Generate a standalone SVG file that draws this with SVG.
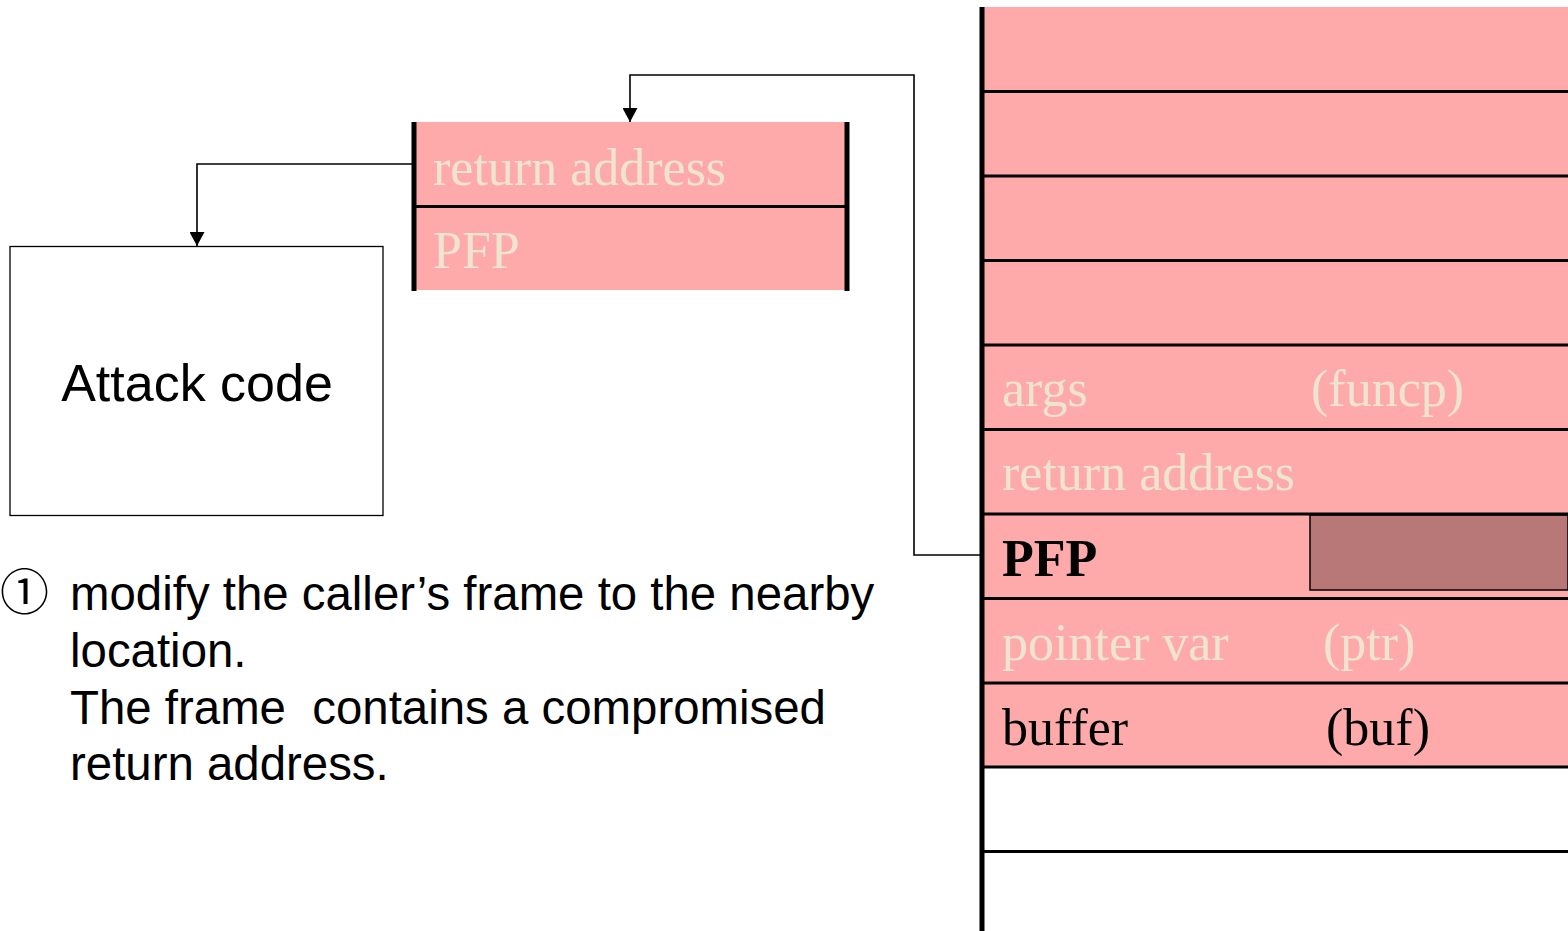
<svg xmlns="http://www.w3.org/2000/svg" width="1568" height="931" viewBox="0 0 1568 931">
<style>
.serif{font-family:"Liberation Serif","Times New Roman",serif;font-size:52px}
.cream{fill:#EEE4D0}
.sans{font-family:"Liberation Sans",Arial,"Noto Sans CJK JP",sans-serif;fill:#000}
.sep{stroke:#000;stroke-width:3}
.conn{fill:none;stroke:#000;stroke-width:1.6}
</style>
<defs>
<marker id="arrow" viewBox="0 0 14 15" refX="14" refY="7.5" markerWidth="14" markerHeight="15" markerUnits="userSpaceOnUse" orient="auto">
<path d="M0,0 L14,7.5 L0,15 z" fill="#000"/>
</marker>
</defs>
<rect width="1568" height="931" fill="#fff"/>

<g id="stack">
<rect x="982" y="7" width="586" height="760" fill="#FFAAAA"/>
<rect x="1310" y="515" width="258" height="75" fill="#B87878" stroke="#000" stroke-width="1.5"/>
<line class="sep" x1="982" y1="91.5" x2="1568" y2="91.5"/>
<line class="sep" x1="982" y1="176" x2="1568" y2="176"/>
<line class="sep" x1="982" y1="260.5" x2="1568" y2="260.5"/>
<line class="sep" x1="982" y1="345" x2="1568" y2="345"/>
<line class="sep" x1="982" y1="429.5" x2="1568" y2="429.5"/>
<line class="sep" x1="982" y1="514" x2="1568" y2="514"/>
<line class="sep" x1="982" y1="598.5" x2="1568" y2="598.5"/>
<line class="sep" x1="982" y1="683" x2="1568" y2="683"/>
<line class="sep" x1="982" y1="767" x2="1568" y2="767"/>
<line class="sep" x1="982" y1="851.5" x2="1568" y2="851.5"/>
<line x1="982" y1="7" x2="982" y2="931" stroke="#000" stroke-width="5"/>
<text class="serif cream" x="1002" y="406">args</text>
<text class="serif cream" x="1311" y="406">(funcp)</text>
<text class="serif cream" x="1002" y="490">return address</text>
<text class="serif" x="1002" y="576" font-weight="bold" fill="#000">PFP</text>
<text class="serif cream" x="1002" y="660">pointer var</text>
<text class="serif cream" x="1323" y="660">(ptr)</text>
<text class="serif" x="1002" y="745" fill="#000">buffer</text>
<text class="serif" x="1326" y="745" fill="#000">(buf)</text>
</g>

<g id="caller-frame">
<rect x="414" y="122" width="433" height="168" fill="#FFAAAA"/>
<line class="sep" x1="414" y1="206.5" x2="847" y2="206.5"/>
<line x1="414" y1="122" x2="414" y2="291" stroke="#000" stroke-width="5"/>
<line x1="847" y1="122" x2="847" y2="291" stroke="#000" stroke-width="5"/>
<text class="serif cream" x="433" y="185">return address</text>
<text class="serif cream" x="433" y="268">PFP</text>
</g>

<g id="attack-code">
<rect x="10" y="246.5" width="373" height="269" fill="#fff" stroke="#000" stroke-width="1.3"/>
<text class="sans" x="197" y="401" font-size="52" text-anchor="middle">Attack code</text>
</g>

<g id="note">
<text class="sans" x="0" y="610" font-size="49">①</text>
<text class="sans" font-size="47.4" style="white-space:pre">
<tspan x="70" y="610">modify the caller’s frame to the nearby</tspan>
<tspan x="70" y="667">location.</tspan>
<tspan x="70" y="724">The frame  contains a compromised</tspan>
<tspan x="70" y="780">return address.</tspan>
</text>
</g>

<g id="connectors">
<path class="conn" d="M980,555 H914 V75 H630 V122" marker-end="url(#arrow)"/>
<path class="conn" d="M412,164 H197 V246" marker-end="url(#arrow)"/>
</g>
</svg>
